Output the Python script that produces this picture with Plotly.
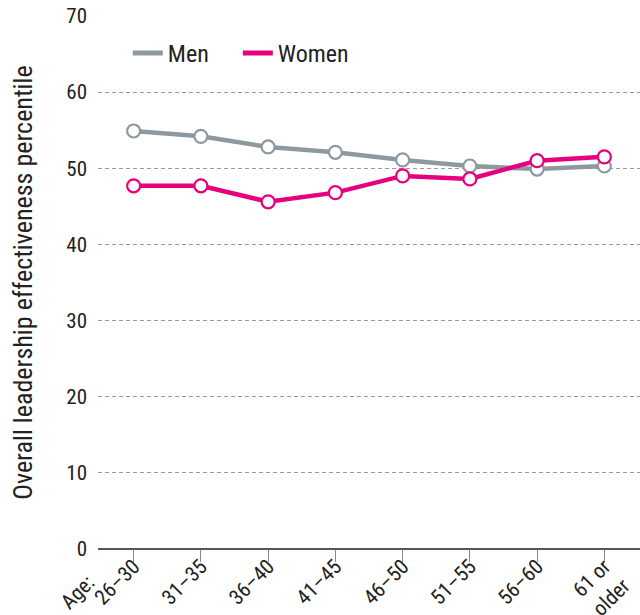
import plotly.graph_objects as go

categories = ["26–30", "31–35", "36–40", "41–45", "46–50", "51–55", "56–60", "61 or<br>older"]
x_prefix = "Age:"
men = [54.9, 54.2, 52.8, 52.1, 51.1, 50.3, 49.9, 50.3]
women = [47.7, 47.7, 45.6, 46.8, 49.0, 48.6, 51.0, 51.5]
y_ticks = [0, 10, 20, 30, 40, 50, 60, 70]

GRAY = "#8E999F"
PINK = "#E6007E"
FONT = "Roboto Condensed, Arial Narrow, sans-serif"

fig = go.Figure()
x_idx = list(range(len(categories)))
for name, vals, col in [("Men", men, GRAY), ("Women", women, PINK)]:
    fig.add_trace(go.Scatter(
        x=x_idx, y=vals, mode="lines+markers", name=name, showlegend=False,
        line=dict(color=col, width=4.5),
        marker=dict(size=13, color="white", line=dict(color=col, width=2.2)),
    ))
    fig.add_trace(go.Scatter(
        x=[None], y=[None], mode="lines", name=name, showlegend=True,
        line=dict(color=col, width=5),
    ))

fig.add_annotation(
    text=x_prefix, xref="paper", yref="paper", x=-0.037, y=-0.081,
    xanchor="center", yanchor="middle", textangle=-45, showarrow=False,
    font=dict(family=FONT, size=21, color="#222"),
)

fig.update_layout(
    width=640, height=615,
    margin=dict(l=98, r=0, t=16, b=66),
    paper_bgcolor="white", plot_bgcolor="white",
    font=dict(family=FONT, size=21, color="#222"),
    legend=dict(orientation="h", x=0.055, y=0.93, xanchor="left", yanchor="middle",
                font=dict(size=24, color="#222"), bgcolor="rgba(0,0,0,0)",
                itemwidth=30, entrywidth=65),
    xaxis=dict(
        range=[-0.53, 7.53], tickmode="array", tickvals=x_idx, ticktext=categories,
        tickangle=-45, ticks="outside", ticklen=12, tickcolor="#888", tickwidth=1,
        showgrid=False, showline=False, zeroline=False, automargin=False,
        ticklabelstandoff=-16,
        tickfont=dict(size=21, color="#222"),
    ),
    yaxis=dict(
        range=[0, 70], tickvals=y_ticks, showgrid=True, gridcolor="#9a9a9a",
        griddash="4px,3px", gridwidth=1, zeroline=True, zerolinecolor="#555",
        zerolinewidth=1.5, showline=False, ticks="", ticklabelstandoff=10,
        automargin=True,
        tickfont=dict(size=21, color="#222"),
        title=dict(text="Overall leadership effectiveness percentile",
                   font=dict(size=26, color="#222"), standoff=26),
    ),
)

fig.write_html("out.html")
